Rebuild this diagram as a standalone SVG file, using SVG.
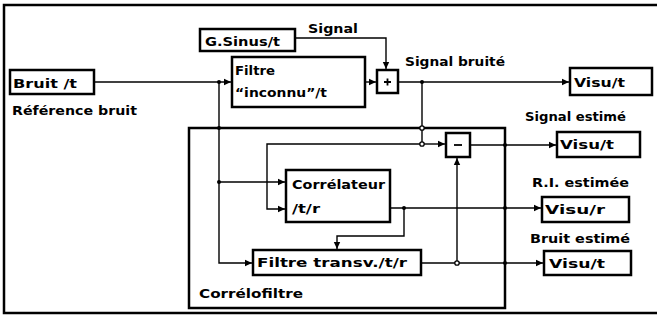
<svg xmlns="http://www.w3.org/2000/svg" width="657" height="320" viewBox="0 0 657 320">
<style>
.box{fill:#fff;stroke:#000;stroke-width:2.5}
.frame{fill:none;stroke:#000;stroke-width:2.5}
.ln{fill:none;stroke:#000;stroke-width:1.4}
.t{font-family:"DejaVu Sans","Liberation Sans",sans-serif;font-weight:bold;font-size:13px;fill:#000}
.dot{fill:#000}
.hol{fill:#fff;stroke:#000;stroke-width:1.3}
</style>
<defs>
<marker id="ar" markerUnits="userSpaceOnUse" markerWidth="8" markerHeight="8" refX="7" refY="4" orient="auto">
<path d="M0,0.8 L7,4 L0,7.2 Z" fill="#000"/>
</marker>
</defs>
<rect width="657" height="320" fill="#fff"/>
<rect class="frame" x="4" y="5" width="660" height="308"/>

<g id="correlofiltre">
<rect class="frame" x="189" y="128" width="316" height="180"/>
<text class="t" x="199" y="298" textLength="104" lengthAdjust="spacingAndGlyphs">Corrélofiltre</text>
</g>

<g id="connectors">
<polyline class="ln" points="94,82 231,82" marker-end="url(#ar)"/>
<polyline class="ln" points="219,82 219,263 252,263" marker-end="url(#ar)"/>
<polyline class="ln" points="219,182 285,182" marker-end="url(#ar)"/>
<polyline class="ln" points="295,38 386,38 386,69" marker-end="url(#ar)"/>
<polyline class="ln" points="365,82 376,82" marker-end="url(#ar)"/>
<polyline class="ln" points="398,82 569,82" marker-end="url(#ar)"/>
<polyline class="ln" points="422,82 422,144 267,144 267,209 285,209" marker-end="url(#ar)"/>
<polyline class="ln" points="422,144 445,144" marker-end="url(#ar)"/>
<polyline class="ln" points="470,145 556,145" marker-end="url(#ar)"/>
<polyline class="ln" points="390,208 541,208" marker-end="url(#ar)"/>
<polyline class="ln" points="404,208 404,236 337,236 337,249" marker-end="url(#ar)"/>
<polyline class="ln" points="421,263 543,263" marker-end="url(#ar)"/>
<polyline class="ln" points="457,263 457,158" marker-end="url(#ar)"/>
<circle class="dot" cx="219" cy="82" r="2"/>
<circle class="dot" cx="219" cy="128" r="2"/>
<circle class="dot" cx="219" cy="182" r="2"/>
<circle class="dot" cx="422" cy="82" r="2"/>
<circle class="hol" cx="422" cy="128" r="2.2"/>
<circle class="hol" cx="422" cy="144" r="2.2"/>
<circle class="dot" cx="404" cy="208" r="2"/>
<circle class="hol" cx="457" cy="263" r="2.2"/>
<circle class="dot" cx="505" cy="145" r="2"/>
<circle class="dot" cx="505" cy="208" r="2"/>
<circle class="dot" cx="505" cy="263" r="2"/>
<text class="t" x="308" y="33" textLength="50" lengthAdjust="spacingAndGlyphs">Signal</text>
<text class="t" x="405" y="66" textLength="100" lengthAdjust="spacingAndGlyphs">Signal bruité</text>
<text class="t" x="525" y="121" textLength="101" lengthAdjust="spacingAndGlyphs">Signal estimé</text>
<text class="t" x="532" y="187" textLength="97" lengthAdjust="spacingAndGlyphs">R.I. estimée</text>
<text class="t" x="530" y="243" textLength="100" lengthAdjust="spacingAndGlyphs">Bruit estimé</text>
</g>

<g id="bruit">
<rect class="box" x="10" y="70" width="84" height="24"/>
<text class="t" x="13" y="88" textLength="64" lengthAdjust="spacingAndGlyphs">Bruit /t</text>
<text class="t" x="12" y="115" textLength="125" lengthAdjust="spacingAndGlyphs">Référence bruit</text>
</g>

<g id="gsinus">
<rect class="box" x="200" y="29" width="95" height="22"/>
<text class="t" x="205" y="46" textLength="75" lengthAdjust="spacingAndGlyphs">G.Sinus/t</text>
</g>

<g id="filtre">
<rect class="box" x="232" y="57" width="133" height="50"/>
<text class="t" x="235" y="75" textLength="40" lengthAdjust="spacingAndGlyphs">Filtre</text>
<text class="t" x="235" y="97" textLength="92" lengthAdjust="spacingAndGlyphs">“inconnu”/t</text>
</g>

<g id="plus">
<rect class="box" x="377" y="70" width="21" height="23"/>
<path d="M384,82 H391 M387.5,78.5 V85.5" stroke="#000" stroke-width="1.8"/>
</g>

<g id="minus">
<rect class="box" x="446" y="133" width="24" height="24"/>
<path d="M454,145 H462" stroke="#000" stroke-width="1.8"/>
</g>

<g id="correlateur">
<rect class="box" x="286" y="170" width="104" height="52"/>
<text class="t" x="292" y="189" textLength="93" lengthAdjust="spacingAndGlyphs">Corrélateur</text>
<text class="t" x="292" y="213" textLength="28" lengthAdjust="spacingAndGlyphs">/t/r</text>
</g>

<g id="filtretransv">
<rect class="box" x="253" y="250" width="168" height="25"/>
<text class="t" x="257" y="267" textLength="150" lengthAdjust="spacingAndGlyphs">Filtre transv./t/r</text>
</g>

<g id="visu1">
<rect class="box" x="570" y="68" width="82" height="27"/>
<text class="t" x="574" y="87" textLength="51" lengthAdjust="spacingAndGlyphs">Visu/t</text>
</g>

<g id="visu2">
<rect class="box" x="557" y="132" width="83" height="25"/>
<text class="t" x="560" y="149" textLength="54" lengthAdjust="spacingAndGlyphs">Visu/t</text>
</g>

<g id="visu3">
<rect class="box" x="542" y="197" width="87" height="25"/>
<text class="t" x="545" y="214" textLength="60" lengthAdjust="spacingAndGlyphs">Visu/r</text>
</g>

<g id="visu4">
<rect class="box" x="544" y="251" width="87" height="24"/>
<text class="t" x="549" y="268" textLength="56" lengthAdjust="spacingAndGlyphs">Visu/t</text>
</g>
</svg>
